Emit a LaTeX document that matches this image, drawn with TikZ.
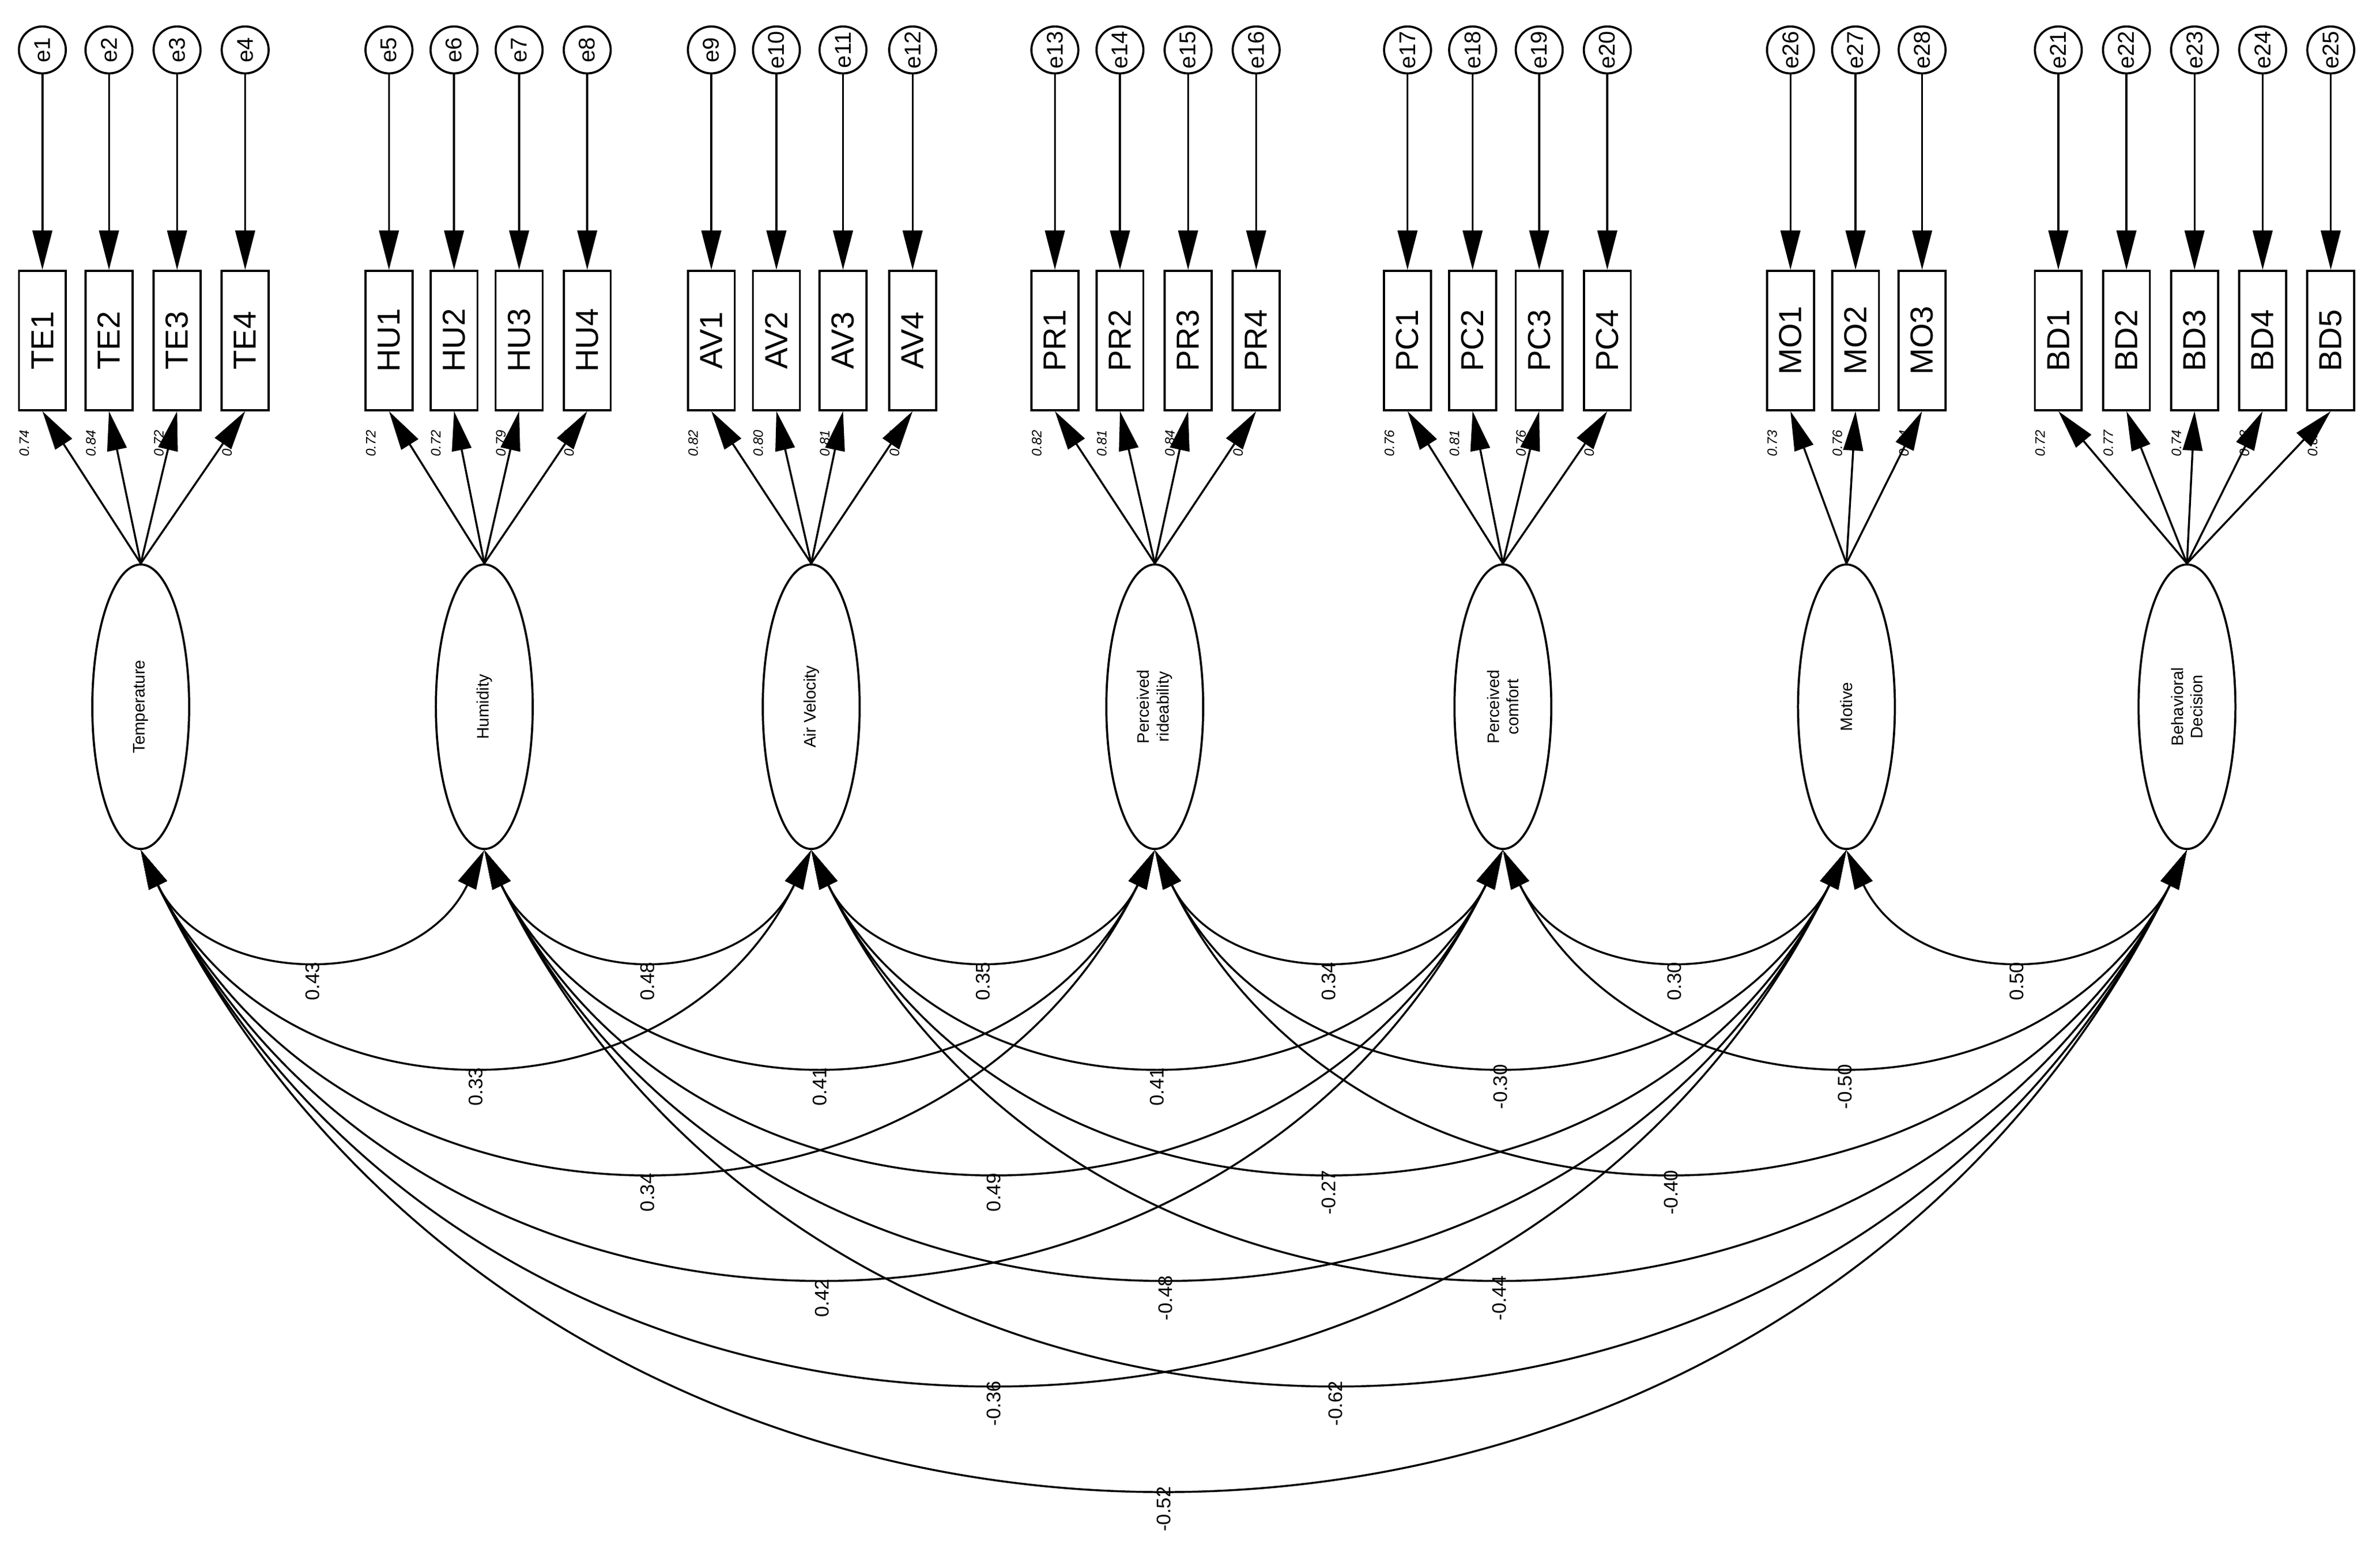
\documentclass[tikz,border=0pt]{standalone}
\usepackage{fontspec}
\setmainfont{Liberation Sans}
\usetikzlibrary{arrows.meta,shapes.geometric}
\begin{document}
\begin{tikzpicture}[x=1pt,y=-1pt,
  lat/.style={ellipse,draw,line width=1.4pt,minimum width=64pt,minimum height=188pt,inner sep=0pt},
  ind/.style={rectangle,draw,line width=1.4pt,minimum width=31pt,minimum height=92pt,inner sep=0pt},
  err/.style={circle,draw,line width=1.4pt,minimum size=31pt,inner sep=0pt},
  tip/.style={-{Triangle[length=26pt,width=13pt]}},
  cov/.style={{Triangle[length=26pt,width=13pt]}-{Triangle[length=26pt,width=13pt]},line width=1.3pt},
  lo/.style={font=\fontsize{9}{9}\itshape,rotate=90},
  cl/.style={font=\fontsize{13}{13}\selectfont,rotate=90}]
\useasboundingbox (0,0) rectangle (1560,1036);
% latents
\foreach \n/\x in {1/93,2/320,3/536,4/763,5/993,6/1220,7/1445}
  \node[lat] (L\n) at (\x,467) {};
\foreach \n/\t in {1/Temperature,2/Humidity,3/Air Velocity,4/{Perceived\\rideability},5/{Perceived\\comfort},6/Motive,7/{Behavioral\\Decision}}
  \node[rotate=90,align=center,font=\fontsize{11}{13}\selectfont] (T\n) at (L\n) {\t};
% indicators
\foreach \lab/\x/\e/\l/\v in {
 TE1/28/e1/1/0.74,TE2/72/e2/1/0.84,TE3/117/e3/1/0.72,TE4/162/e4/1/0.78,
 HU1/257/e5/2/0.72,HU2/300/e6/2/0.72,HU3/343/e7/2/0.79,HU4/388/e8/2/0.76,
 AV1/470/e9/3/0.82,AV2/513/e10/3/0.80,AV3/557/e11/3/0.81,AV4/603/e12/3/0.84,
 PR1/697/e13/4/0.82,PR2/740/e14/4/0.81,PR3/785/e15/4/0.84,PR4/830/e16/4/0.83,
 PC1/930/e17/5/0.76,PC2/973/e18/5/0.81,PC3/1017/e19/5/0.76,PC4/1062/e20/5/0.80,
 MO1/1183/e26/6/0.73,MO2/1226/e27/6/0.76,MO3/1270/e28/6/0.74,
 BD1/1360/e21/7/0.72,BD2/1405/e22/7/0.77,BD3/1450/e23/7/0.74,BD4/1495/e24/7/0.78,BD5/1540/e25/7/0.82}{
  \node[ind] (\lab) at (\x,225) {};
  \node[rotate=90,font=\fontsize{21}{21}\selectfont] at (\lab) {\lab};
  \node[err] (\e) at (\x,33) {};
  \node[rotate=90,font=\fontsize{15}{15}\selectfont] at (\e) {\e};
  \draw[tip,line width=1.3pt] (\e) -- (\lab);
  \draw[tip,line width=1.3pt] (L\l.north) -- (\lab.south);
  \node[lo] at (\x-12,293) {\v};
}
% covariances
\foreach \i/\j/\v in {1/2/0.43,2/3/0.48,3/4/0.35,4/5/0.34,5/6/0.30,6/7/0.50,
 1/3/0.33,2/4/0.41,3/5/0.41,4/6/-0.30,5/7/-0.50,
 1/4/0.34,2/5/0.49,3/6/-0.27,4/7/-0.40,
 1/5/0.42,2/6/-0.48,3/7/-0.44,
 1/6/-0.36,2/7/-0.62,
 1/7/-0.52}{
  \pgfmathsetmacro\d{\j-\i}
  \pgfmathsetmacro\h{93*\d}
  \pgfmathsetmacro\dx{227*\d*0.2}
  \draw[cov] (L\i.south) .. controls +(\dx,\h) and +(-\dx,\h) .. (L\j.south);
  \path (L\i.south) -- (L\j.south) coordinate[pos=0.5] (m\i\j);
  \node[cl] at ([yshift=-\h*0.75-17]m\i\j) {\v};
}
\end{tikzpicture}
\end{document}
